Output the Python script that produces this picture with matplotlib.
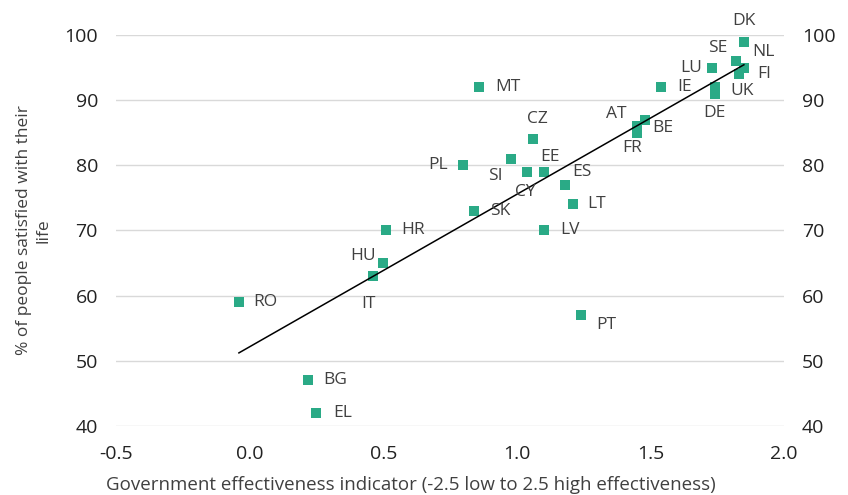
import numpy as np
import matplotlib.pyplot as plt

plt.rcParams['font.family'] = ['Open Sans', 'DejaVu Sans']

countries = ['DK', 'SE', 'NL', 'FI', 'LU', 'IE', 'UK', 'DE', 'AT', 'BE', 'FR',
             'MT', 'CZ', 'PL', 'SI', 'EE', 'CY', 'ES', 'LT', 'SK', 'LV', 'HR',
             'HU', 'IT', 'RO', 'PT', 'BG', 'EL']
gov_eff = [1.85, 1.82, 1.85, 1.83, 1.73, 1.54, 1.74, 1.74, 1.45, 1.48, 1.45,
           0.86, 1.06, 0.80, 0.98, 1.10, 1.04, 1.18, 1.21, 0.84, 1.10, 0.51,
           0.50, 0.46, -0.04, 1.24, 0.22, 0.25]
satisfied = [99, 96, 95, 94, 95, 92, 92, 91, 86, 87, 85,
             92, 84, 80, 81, 79, 79, 77, 74, 73, 70, 70,
             65, 63, 59, 57, 47, 42]

# label offsets in pixels (dx, dy)
offsets = {
    'DK': (0, 21), 'SE': (-18, 13), 'NL': (20, 16), 'FI': (26, 0),
    'LU': (-21, 0), 'IE': (23, 0), 'UK': (28, -4), 'DE': (0, -19),
    'AT': (-21, 12), 'BE': (18, -8), 'FR': (-5, -15), 'MT': (28, 0),
    'CZ': (5, 20), 'PL': (-25, 0), 'SI': (-16, -17), 'EE': (6, 15),
    'CY': (-2, -20), 'ES': (17, 13), 'LT': (24, 0), 'SK': (26, 0),
    'LV': (26, 0), 'HR': (27, 0), 'HU': (-20, 7), 'IT': (-4, -28),
    'RO': (26, 0), 'PT': (25, -10), 'BG': (27, 0), 'EL': (26, 0),
}

green = '#2aaa86'
txt = '#404040'

fig = plt.figure(figsize=(8.48, 4.95), dpi=100)
ax = fig.add_axes([0.1368, 0.1394, 0.7877, 0.7899])

ax.scatter(gov_eff, satisfied, marker='s', s=62, color=green, zorder=3,
           linewidths=0)

x = np.array(gov_eff)
slope, icpt = np.polyfit(x, satisfied, 1)
xs = np.array([x.min(), x.max()])
ax.plot(xs, slope * xs + icpt, color='black', lw=1.1, zorder=4)

for c, gx, sy in zip(countries, gov_eff, satisfied):
    ax.annotate(c, (gx, sy), xytext=offsets[c], textcoords='offset pixels',
                ha='center', va='center', fontsize=12.5, color=txt, zorder=5)

ax.set_xlim(-0.5, 2.0)
ax.set_ylim(40, 100)
ax.set_xticks(np.arange(-0.5, 2.01, 0.5))
ax.set_xticklabels(['-0.5', '0.0', '0.5', '1.0', '1.5', '2.0'])
ax.set_yticks(range(40, 101, 10))
ax.grid(axis='y', color='#d9d9d9', lw=1)
ax.set_axisbelow(True)
for s in ax.spines.values():
    s.set_visible(False)
ax.tick_params(length=0, labelsize=14, labelcolor='#222222', pad=13)
ax.tick_params(axis='x', pad=14)

ax2 = ax.twinx()
ax2.set_ylim(40, 100)
ax2.set_yticks(range(40, 101, 10))
for s in ax2.spines.values():
    s.set_visible(False)
ax2.tick_params(length=0, labelsize=14, labelcolor='#222222', pad=13)

ax.set_xlabel('Government effectiveness indicator (-2.5 low to 2.5 high effectiveness)',
              fontsize=13.5, color=txt)
ax.xaxis.set_label_coords(0.442, -0.127)
ax.set_ylabel('% of people satisfied with their\nlife', fontsize=12.5,
              color=txt, linespacing=1.3)
ax.yaxis.set_label_coords(-0.096, 0.5)

fig.savefig('out.png', dpi=100)
